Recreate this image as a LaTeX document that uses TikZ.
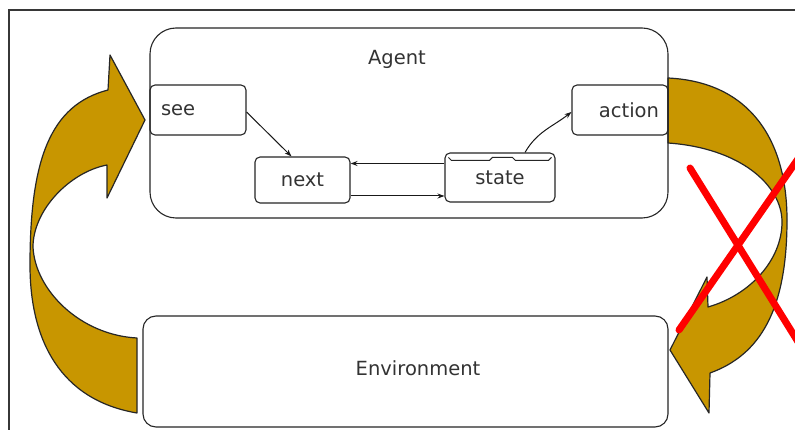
\documentclass[tikz,border=0pt]{standalone}
\usepackage{fontspec}
\setmainfont{DejaVu Sans}
\usetikzlibrary{arrows.meta,calc}
\definecolor{gold}{RGB}{200,150,0}
\definecolor{frameclr}{RGB}{55,55,55}
\begin{document}
\begin{tikzpicture}[x=1pt,y=-1pt,
  font=\fontsize{19.5}{22}\selectfont, text=black!80,
  box/.style={draw=black!85, line width=1.1pt, rounded corners=5pt, inner sep=0pt},
  conn/.style={draw=black!90, line width=1pt, -{Stealth[length=7pt,width=5pt]}},
  tabline/.style={draw=black!85, line width=1pt},
  loop/.style={fill=gold, draw=black!85, line width=1.2pt, line join=round},
  cross/.style={draw=red, line width=7pt, line cap=round}]
\useasboundingbox (0,0) rectangle (795,430);
\fill[white] (0,0) rectangle (795,430);
\draw[frameclr, line width=2pt] (9,430) -- (9,10) -- (795,10);

% curved arrow on the left: environment -> see
\draw[loop] (137,413) .. controls (60,400) and (30,340) .. (30,265)
  .. controls (30,160) and (50,105) .. (108,90)
  -- (110,55) -- (145,120) -- (107,198) -- (107,165)
  .. controls (70,172) and (33,210) .. (33,247)
  .. controls (35,290) and (80,335) .. (137,338) -- cycle;

% curved arrow on the right: action -> environment
\draw[loop] (668,78) .. controls (750,82) and (787,140) .. (787,220)
  .. controls (787,310) and (760,355) .. (710,373)
  -- (709,413) -- (670,350) -- (707,277) -- (708,307)
  .. controls (750,295) and (782,260) .. (782,222)
  .. controls (782,185) and (740,148) .. (668,143) -- cycle;

% agent and environment
\node[box, rounded corners=26pt, minimum width=518pt, minimum height=190pt,
  label={[anchor=center,xshift=-12pt,yshift=-32pt]north:Agent}] (agent) at (409,123) {};
\node[box, rounded corners=13pt, minimum width=525pt, minimum height=111pt,
  label={[xshift=12.5pt,yshift=3.5pt]center:Environment}] (env) at (405.5,371.5) {};

% agent components
\node[box, minimum width=96pt, minimum height=50pt, text width=74pt,
  align=left, inner xsep=11pt] (see) at (198,110) {see};
\node[box, minimum width=95pt, minimum height=46pt] (next) at (302.5,180) {next};
\node[box, minimum width=110pt, minimum height=49pt] (state) at (500,177.5) {state};
\node[box, minimum width=96pt, minimum height=50pt, text width=78pt,
  align=right, inner xsep=9pt] (action) at (620,110) {action};

% tab along the top of the state box
\draw[tabline] ($(state.north west)+(4,5)$) -- ++(3,3) -- ++(38,0) -- ++(3,-3)
  -- ++(20,0) -- ++(3,3) -- ++(33,0) -- ++(3,-3);

% data flow inside the agent
\draw[conn] ([yshift=-2pt]see.east) -- ([xshift=-11pt]next.north);
\draw[conn] ([yshift=14pt]state.west) -- ([yshift=14pt]state.west -| next.east);
\draw[conn] ([yshift=-16pt]next.east) -- ([yshift=-16pt]next.east -| state.west);
\draw[conn] ([xshift=25pt]state.north) to[out=60,in=218] ([yshift=-2pt]action.west);

% red cross over the action loop
\begin{scope}
  \clip (0,0) rectangle (795,430);
  \draw[cross] (690,168) -- (800,345);
  \draw[cross] (679,330) -- (800,156);
\end{scope}
\end{tikzpicture}
\end{document}
